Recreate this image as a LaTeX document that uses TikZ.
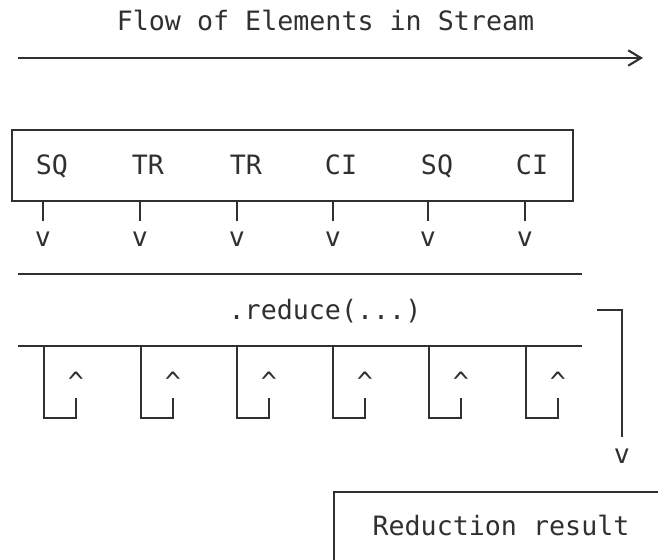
\documentclass[tikz,border=0pt]{standalone}
\usepackage{fontspec}
\newfontfamily\monofont{DejaVu Sans Mono}
\usetikzlibrary{arrows.meta}
\definecolor{inkc}{HTML}{303030}
\begin{document}
\begin{tikzpicture}[x=0.75pt,y=-0.75pt,
  ink/.style={draw=inkc, line width=1.6pt},
  lbl/.style={font=\monofont\fontsize{20}{24}\selectfont, text=inkc, inner sep=0pt, anchor=base},
  wire/.style={ink, line cap=butt, line join=miter}]
\useasboundingbox (0,0) rectangle (658,560);
\clip (0,0) rectangle (658,560);

% heading and stream direction arrow
\node[lbl] (title) at (325.5,31) {Flow of Elements in Stream};
\coordinate (flowL) at (18,58);
\coordinate (flowR) at (643,58);
\draw[wire, -{Straight Barb[length=9.5pt,width=11.5pt,line width=1.6pt]}] (flowL) -- (flowR);

% stream elements box
\node (stream) [ink, rectangle, inner sep=0pt, minimum width=420.75pt, minimum height=53.25pt] at (292.5,165.5) {};
\foreach \x/\lab [count=\i] in {52/SQ,148/TR,246/TR,341/CI,437/SQ,532/CI}
  \node[lbl] (item\i) at (\x,175) {\lab};

% elements handed down into reduce
\foreach \t [count=\i] in {43,140,237,333,428,525} {
  \coordinate (tickA\i) at (\t,201);
  \coordinate (tickB\i) at (\t,221);
  \draw[wire] (tickA\i) -- (tickB\i);
  \node[lbl] (down\i) at (\t,247) {v};
}

% reduce operation band
\coordinate (bandTL) at (18,274);
\coordinate (bandTR) at (582,274);
\coordinate (bandBL) at (18,346);
\coordinate (bandBR) at (582,346);
\draw[wire] (bandTL) -- (bandTR);
\draw[wire] (bandBL) -- (bandBR);
\node[lbl] (reduce) at (325,319) {.reduce(...)};

% accumulator feedback hooks
\foreach \l [count=\i] in {44,141,237,333,429,526} {
  \coordinate (hookA\i) at (\l,346);
  \coordinate (hookB\i) at (\l,418);
  \coordinate (hookC\i) at ({\l+32},418);
  \coordinate (hookD\i) at ({\l+32},398);
  \draw[wire] (hookA\i) -- (hookB\i) -- (hookC\i) -- (hookD\i);
  \node[lbl] (up\i) at ({\l+32},391) {\textasciicircum};
}

% output path to the result
\coordinate (outA) at (597,310);
\coordinate (outB) at (622,310);
\coordinate (outC) at (622,437);
\draw[wire] (outA) -- (outB) -- (outC);
\node[lbl] (outv) at (622,463) {v};

% result box (continues past the edge)
\node (resultbox) [ink, rectangle, inner sep=0pt, minimum width=300pt, minimum height=100pt, anchor=north west] at (333,491) {};
\node[lbl] (result) at (501,535) {Reduction result};
\end{tikzpicture}
\end{document}
